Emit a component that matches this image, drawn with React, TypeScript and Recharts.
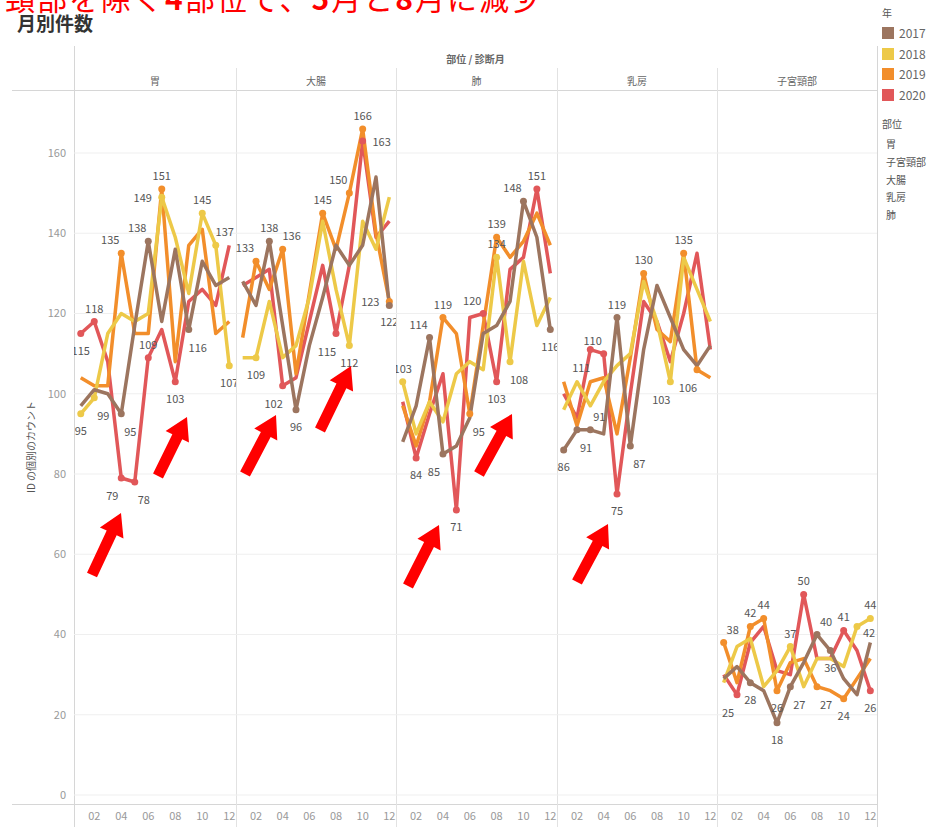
import React from 'react';
import { LineChart, Line, XAxis, YAxis, CartesianGrid } from 'recharts';

const YEARS = ['2017', '2018', '2019', '2020'];
const YEAR_COLORS = ['#9c755f', '#edc948', '#f28e2b', '#e15759'];
const MONTHS = [1, 2, 3, 4, 5, 6, 7, 8, 9, 10, 11, 12];
const SITES = ['胃', '大腸', '肺', '乳房', '子宮頸部'];
const LEGEND_SITES = ['胃', '子宮頸部', '大腸', '乳房', '肺'];
const Y_TICKS = [0, 20, 40, 60, 80, 100, 120, 140, 160];
const X_TICKS = [2, 4, 6, 8, 10, 12];

// 胃
const stomach2017 = [97, 101, 100, 95, 117, 138, 118, 136, 116, 133, 127, 129];
const stomach2018 = [95, 99, 115, 120, 118, 120, 149, 139, 125, 145, 137, 107];
const stomach2019 = [104, 102, 102, 135, 115, 115, 151, 108, 137, 141, 115, 118];
const stomach2020 = [115, 118, 108, 79, 78, 109, 116, 103, 123, 126, 122, 137];

// 大腸
const colon2017 = [128, 122, 138, 117, 96, 112, 124, 137, 132, 137, 154, 122];
const colon2018 = [109, 109, 123, 109, 112, 124, 143, 126, 112, 143, 136, 149];
const colon2019 = [114, 133, 126, 136, 105, 125, 145, 136, 150, 166, 140, 123];
const colon2020 = [127, 129, 131, 102, 104, 118, 132, 115, 132, 163, 139, 143];

// 肺
const lung2017 = [88, 97, 114, 85, 87, 94, 115, 117, 123, 148, 139, 116];
const lung2018 = [103, 90, 98, 93, 105, 108, 106, 134, 108, 133, 117, 124];
const lung2019 = [97, 87, 98, 119, 115, 95, 117, 139, 134, 138, 145, 137];
const lung2020 = [98, 84, 95, 105, 71, 119, 120, 103, 131, 134, 151, 130];

// 乳房
const breast2017 = [86, 91, 91, 90, 119, 87, 111, 127, 119, 111, 107, 112];
const breast2018 = [96, 103, 97, 103, 107, 110, 128, 118, 103, 134, 126, 118];
const breast2019 = [103, 92, 103, 104, 90, 109, 130, 116, 113, 135, 106, 104];
const breast2020 = [100, 94, 111, 110, 75, 100, 123, 118, 108, 120, 135, 111];

// 子宮頸部
const cervix2017 = [29, 32, 28, 26, 18, 27, 33, 40, 36, 29, 25, 38];
const cervix2018 = [28, 37, 39, 27, 31, 37, 27, 34, 34, 32, 42, 44];
const cervix2019 = [38, 28, 42, 44, 26, 33, 34, 27, 26, 24, 29, 34];
const cervix2020 = [30, 25, 38, 42, 31, 30, 50, 34, 34, 41, 36, 26];

// which points carry a value label (and where the label sits)
type Place = 'above' | 'below' | 'left' | 'right' | 'nearRight' | 'aboveLeft' | 'aboveRight' | 'belowLeft' | 'belowRight';
interface LabelSpec { year: string; month: number; place: Place }

const stomachLabels: LabelSpec[] = [
  { year: '2019', month: 7, place: 'above' },
  { year: '2018', month: 7, place: 'left' },
  { year: '2018', month: 10, place: 'above' },
  { year: '2017', month: 6, place: 'aboveLeft' },
  { year: '2019', month: 4, place: 'aboveLeft' },
  { year: '2018', month: 11, place: 'aboveRight' },
  { year: '2020', month: 2, place: 'above' },
  { year: '2020', month: 1, place: 'below' },
  { year: '2020', month: 6, place: 'above' },
  { year: '2017', month: 9, place: 'belowRight' },
  { year: '2020', month: 8, place: 'below' },
  { year: '2018', month: 12, place: 'below' },
  { year: '2018', month: 2, place: 'belowRight' },
  { year: '2018', month: 1, place: 'below' },
  { year: '2017', month: 4, place: 'belowRight' },
  { year: '2020', month: 4, place: 'belowLeft' },
  { year: '2020', month: 5, place: 'belowRight' },
];

const colonLabels: LabelSpec[] = [
  { year: '2019', month: 10, place: 'above' },
  { year: '2020', month: 10, place: 'right' },
  { year: '2019', month: 9, place: 'aboveLeft' },
  { year: '2019', month: 7, place: 'above' },
  { year: '2017', month: 3, place: 'above' },
  { year: '2019', month: 4, place: 'aboveRight' },
  { year: '2019', month: 2, place: 'aboveLeft' },
  { year: '2019', month: 12, place: 'left' },
  { year: '2017', month: 12, place: 'below' },
  { year: '2020', month: 8, place: 'belowLeft' },
  { year: '2018', month: 9, place: 'below' },
  { year: '2018', month: 2, place: 'below' },
  { year: '2020', month: 4, place: 'belowLeft' },
  { year: '2017', month: 5, place: 'below' },
];

const lungLabels: LabelSpec[] = [
  { year: '2020', month: 11, place: 'above' },
  { year: '2017', month: 10, place: 'aboveLeft' },
  { year: '2019', month: 8, place: 'above' },
  { year: '2018', month: 8, place: 'above' },
  { year: '2020', month: 7, place: 'aboveLeft' },
  { year: '2019', month: 4, place: 'above' },
  { year: '2017', month: 3, place: 'aboveLeft' },
  { year: '2018', month: 1, place: 'above' },
  { year: '2017', month: 12, place: 'below' },
  { year: '2018', month: 9, place: 'belowRight' },
  { year: '2020', month: 8, place: 'below' },
  { year: '2019', month: 6, place: 'belowRight' },
  { year: '2020', month: 2, place: 'below' },
  { year: '2017', month: 4, place: 'belowLeft' },
  { year: '2020', month: 5, place: 'below' },
];

const breastLabels: LabelSpec[] = [
  { year: '2019', month: 10, place: 'above' },
  { year: '2019', month: 7, place: 'above' },
  { year: '2017', month: 5, place: 'above' },
  { year: '2020', month: 4, place: 'aboveLeft' },
  { year: '2020', month: 3, place: 'belowLeft' },
  { year: '2017', month: 3, place: 'aboveRight' },
  { year: '2017', month: 2, place: 'belowRight' },
  { year: '2017', month: 1, place: 'below' },
  { year: '2017', month: 6, place: 'belowRight' },
  { year: '2018', month: 9, place: 'belowLeft' },
  { year: '2019', month: 11, place: 'belowLeft' },
  { year: '2020', month: 5, place: 'below' },
];

const cervixLabels: LabelSpec[] = [
  { year: '2020', month: 7, place: 'above' },
  { year: '2019', month: 4, place: 'above' },
  { year: '2019', month: 3, place: 'above' },
  { year: '2019', month: 1, place: 'aboveRight' },
  { year: '2018', month: 6, place: 'above' },
  { year: '2017', month: 8, place: 'aboveRight' },
  { year: '2020', month: 10, place: 'above' },
  { year: '2018', month: 12, place: 'above' },
  { year: '2018', month: 11, place: 'nearRight' },
  { year: '2017', month: 9, place: 'below' },
  { year: '2020', month: 2, place: 'belowLeft' },
  { year: '2017', month: 3, place: 'below' },
  { year: '2019', month: 5, place: 'below' },
  { year: '2017', month: 5, place: 'below' },
  { year: '2017', month: 6, place: 'belowRight' },
  { year: '2019', month: 8, place: 'belowRight' },
  { year: '2019', month: 10, place: 'below' },
  { year: '2020', month: 12, place: 'below' },
];

const SERIES: Record<string, number[][]> = {
  胃: [stomach2017, stomach2018, stomach2019, stomach2020],
  大腸: [colon2017, colon2018, colon2019, colon2020],
  肺: [lung2017, lung2018, lung2019, lung2020],
  乳房: [breast2017, breast2018, breast2019, breast2020],
  子宮頸部: [cervix2017, cervix2018, cervix2019, cervix2020],
};

const LABELS: Record<string, LabelSpec[]> = {
  胃: stomachLabels,
  大腸: colonLabels,
  肺: lungLabels,
  乳房: breastLabels,
  子宮頸部: cervixLabels,
};

// red annotation arrows: tail x, tail y, tip x, tip y (page pixels)
const ARROWS = [
  [92, 575, 121, 513],
  [158, 476, 187, 417],
  [245, 474, 276, 415],
  [320, 430, 351, 366],
  [408, 586, 439, 525],
  [479, 474, 512, 414],
  [577, 582, 608, 524],
];

// layout
const FONT = '"Noto Sans CJK JP", "Noto Sans", sans-serif';
const PANEL_EDGES = [74, 236, 396, 557, 717, 877];
const PLOT_TOP = 90;
const PLOT_H = 714;
const AXIS_H = 24;
const Y_AXIS_W = 62;
const Y_DOMAIN = [-2.24, 175.7];

const OFFSETS: Record<Place, [number, number]> = {
  above: [0, -14],
  below: [0, 16],
  left: [-19, 0],
  right: [19, 0],
  nearRight: [12, 6],
  aboveLeft: [-11, -14],
  aboveRight: [9, -14],
  belowLeft: [-9, 17],
  belowRight: [9, 17],
};

function buildRows(site: string) {
  return MONTHS.map((m, i) => {
    const row: Record<string, number> = { month: m };
    YEARS.forEach((y, k) => {
      row[y] = SERIES[site][k][i];
    });
    return row;
  });
}

function findLabel(site: string, year: string, index: number) {
  return LABELS[site].find((l) => l.year === year && l.month === MONTHS[index]);
}

const makeDot = (site: string, year: string, color: string) => (props: any) => {
  const { cx, cy, index } = props;
  if (!findLabel(site, year, index) || cx == null) return <g key={`d-${year}-${index}`} />;
  return <circle key={`d-${year}-${index}`} cx={cx} cy={cy} r={3.5} fill={color} />;
};

const makeText = (site: string, year: string) => (props: any) => {
  const { cx, cy, index, payload } = props;
  const spec = findLabel(site, year, index);
  if (!spec || cx == null) return <g key={`t-${year}-${index}`} />;
  const [dx, dy] = OFFSETS[spec.place];
  return (
    <text
      key={`t-${year}-${index}`}
      x={cx + dx}
      y={cy + dy}
      textAnchor="middle"
      dominantBaseline="central"
      fontSize={11}
      fontFamily={FONT}
      fill="#555"
    >
      {payload[year]}
    </text>
  );
};

function Panel({ site, idx }: { site: string; idx: number }) {
  const first = idx === 0;
  const left = first ? PANEL_EDGES[0] - Y_AXIS_W : PANEL_EDGES[idx];
  const width = PANEL_EDGES[idx + 1] - PANEL_EDGES[idx] + (first ? Y_AXIS_W : 0);
  const rows = buildRows(site);
  const order = [3, 2, 1, 0];
  return (
    <div style={{ position: 'absolute', left, top: PLOT_TOP }}>
      <LineChart width={width} height={PLOT_H + AXIS_H} data={rows} margin={{ top: 0, right: 0, bottom: 0, left: 0 }}>
        <CartesianGrid vertical={false} stroke="#efefef" horizontalValues={Y_TICKS} />
        <XAxis
          type="number"
          dataKey="month"
          domain={[0.5, 12.5]}
          ticks={X_TICKS}
          interval={0}
          allowDataOverflow
          axisLine={false}
          tickLine={false}
          height={AXIS_H}
          tickFormatter={(v) => String(v).padStart(2, '0')}
          tick={{ fontSize: 11, fill: '#999', fontFamily: FONT }}
        />
        <YAxis
          type="number"
          domain={Y_DOMAIN}
          ticks={Y_TICKS}
          interval={0}
          allowDataOverflow
          hide={!first}
          width={first ? Y_AXIS_W : 0}
          axisLine={false}
          tickLine={false}
          tick={{ fontSize: 11, fill: '#999', fontFamily: FONT }}
        />
        {order.map((k) => (
          <Line
            key={YEARS[k]}
            dataKey={YEARS[k]}
            stroke={YEAR_COLORS[k]}
            strokeWidth={3.5}
            strokeLinejoin="round"
            dot={makeDot(site, YEARS[k], YEAR_COLORS[k])}
            activeDot={false}
            isAnimationActive={false}
          />
        ))}
        {order.map((k) => (
          <Line
            key={`lab-${YEARS[k]}`}
            dataKey={YEARS[k]}
            stroke="none"
            dot={makeText(site, YEARS[k])}
            activeDot={false}
            legendType="none"
            isAnimationActive={false}
          />
        ))}
      </LineChart>
    </div>
  );
}

function arrowPoints([x1, y1, x2, y2]: number[]) {
  const dx = x2 - x1;
  const dy = y2 - y1;
  const len = Math.hypot(dx, dy);
  const ux = dx / len;
  const uy = dy / len;
  const nx = -uy;
  const ny = ux;
  const bx = x1 + ux * (len - 22);
  const by = y1 + uy * (len - 22);
  const pts = [
    [x1 + nx * 5.5, y1 + ny * 5.5],
    [bx + nx * 5.5, by + ny * 5.5],
    [bx + nx * 13, by + ny * 13],
    [x2, y2],
    [bx - nx * 13, by - ny * 13],
    [bx - nx * 5.5, by - ny * 5.5],
    [x1 - nx * 5.5, y1 - ny * 5.5],
  ];
  return pts.map((p) => p.join(',')).join(' ');
}

const line = (style: React.CSSProperties) => (
  <div style={{ position: 'absolute', background: '#d6d6d6', ...style }} />
);

export default function App() {
  return (
    <div
      style={{
        position: 'absolute',
        left: 0,
        top: 0,
        width: 944,
        height: 827,
        overflow: 'hidden',
        background: '#fff',
        fontFamily: FONT,
      }}
    >
      <div style={{ position: 'absolute', left: 5, top: -18, fontSize: 30, letterSpacing: 2, color: '#ff0000', whiteSpace: 'nowrap', lineHeight: 1 }}>
        頸部を除く<b>4</b>部位で、<b>5</b>月と<b>8</b>月に減少
      </div>
      <div style={{ position: 'absolute', left: 17, top: 13, fontSize: 19, fontWeight: 700, color: '#333', lineHeight: 1 }}>
        月別件数
      </div>

      {/* frame */}
      {line({ left: 12, top: PLOT_TOP, width: 865, height: 1 })}
      {line({ left: 12, top: PLOT_TOP + PLOT_H, width: 865, height: 1 })}
      {line({ left: 74, top: 46, width: 1, height: 781 })}
      {line({ left: 877, top: 46, width: 1, height: 781 })}
      {PANEL_EDGES.slice(1, 5).map((x) => (
        <React.Fragment key={x}>{line({ left: x, top: 68, width: 1, height: 759, background: '#e2e2e2' })}</React.Fragment>
      ))}

      <div style={{ position: 'absolute', left: 74, width: 803, top: 51, textAlign: 'center', fontSize: 10, color: '#666', fontWeight: 600 }}>
        部位 / 診断月
      </div>
      {SITES.map((s, i) => (
        <div
          key={s}
          style={{
            position: 'absolute',
            left: PANEL_EDGES[i],
            width: PANEL_EDGES[i + 1] - PANEL_EDGES[i],
            top: 73,
            textAlign: 'center',
            fontSize: 10,
            color: '#666',
          }}
        >
          {s}
        </div>
      ))}

      <div
        style={{
          position: 'absolute',
          left: 30,
          top: 447,
          transform: 'translate(-50%, -50%) rotate(-90deg)',
          whiteSpace: 'nowrap',
          fontSize: 10,
          color: '#555',
        }}
      >
        ID の個別のカウント
      </div>

      {SITES.map((s, i) => (
        <Panel key={s} site={s} idx={i} />
      ))}

      {/* legend */}
      <div style={{ position: 'absolute', left: 882, top: 5, fontSize: 10, color: '#555' }}>年</div>
      {YEARS.map((y, k) => (
        <div key={y} style={{ position: 'absolute', left: 882, top: 26 + k * 20.5, display: 'flex', alignItems: 'center' }}>
          <div style={{ width: 12, height: 12, background: YEAR_COLORS[k] }} />
          <span style={{ marginLeft: 5, fontSize: 12, color: '#666', lineHeight: '14px' }}>{y}</span>
        </div>
      ))}
      <div style={{ position: 'absolute', left: 882, top: 116, fontSize: 10, color: '#555' }}>部位</div>
      {LEGEND_SITES.map((s, k) => (
        <div key={s} style={{ position: 'absolute', left: 886, top: 136 + k * 17.8, fontSize: 10, color: '#555', whiteSpace: 'nowrap' }}>
          {s}
        </div>
      ))}

      <svg width={944} height={827} style={{ position: 'absolute', left: 0, top: 0, pointerEvents: 'none' }}>
        {ARROWS.map((a, i) => (
          <polygon key={i} points={arrowPoints(a)} fill="#ff0000" />
        ))}
      </svg>
    </div>
  );
}
